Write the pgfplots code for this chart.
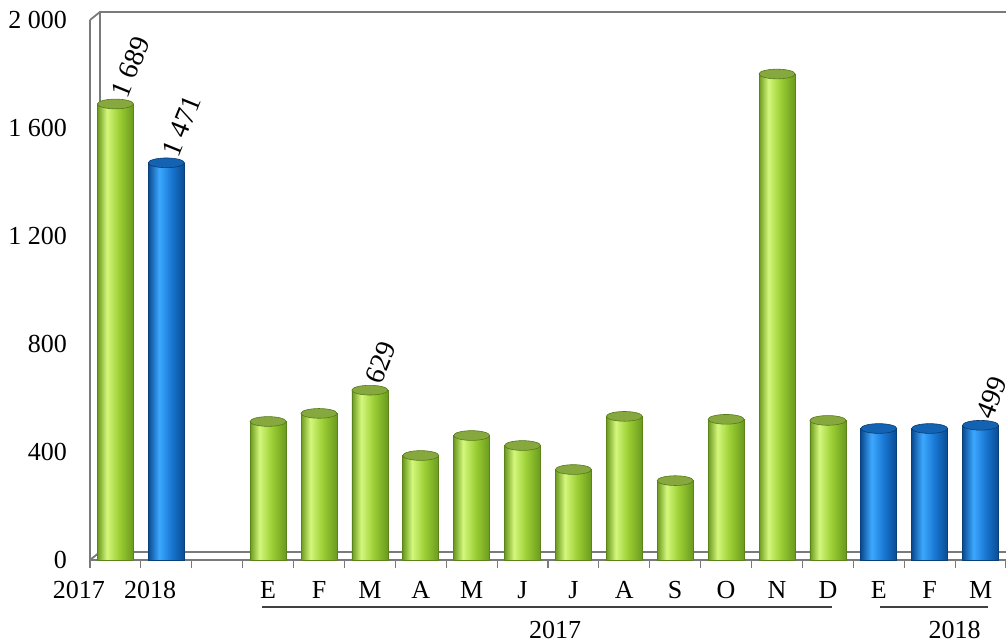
\documentclass[border=0pt]{standalone}
\usepackage{fontspec}
\setmainfont{Liberation Serif}
\usepackage{pgfplots}
\pgfplotsset{compat=1.18}

\definecolor{gD}{HTML}{6A9A1E}
\definecolor{gH}{HTML}{D4F77C}
\definecolor{gM}{HTML}{9CCF34}
\definecolor{gT}{HTML}{86A83E}
\definecolor{bD}{HTML}{0A4B92}
\definecolor{bH}{HTML}{3DA8FF}
\definecolor{bM}{HTML}{1877D2}
\definecolor{bT}{HTML}{1462B2}
\definecolor{axgray}{HTML}{7A7A7A}

\pgfdeclarehorizontalshading{cylgreen}{100bp}{color(0bp)=(gD); color(25bp)=(gD); color(38bp)=(gH); color(55bp)=(gM); color(75bp)=(gD); color(100bp)=(gD)}
\pgfdeclarehorizontalshading{cylblue}{100bp}{color(0bp)=(bD); color(25bp)=(bD); color(40bp)=(bH); color(57bp)=(bM); color(75bp)=(bD); color(100bp)=(bD)}

\pgfplotsset{
  gbar/.style={ybar, bar width=18pt, bar shift=0pt, shade, shading=cylgreen, draw=gD!85!black, line width=0.3pt},
  bbar/.style={ybar, bar width=18pt, bar shift=0pt, shade, shading=cylblue, draw=bD!85!black, line width=0.3pt},
}

\begin{document}
\begin{tikzpicture}[font=\fontsize{13}{15}\selectfont]
\useasboundingbox (-45pt,-41pt) rectangle (458pt,280pt);
\begin{axis}[
  at={(0,0)}, anchor=south west,
  scale only axis, width=458pt, height=270pt,
  xmin=-0.5, xmax=17.5, ymin=0, ymax=2000,
  axis lines=left,
  axis line style={-, draw=axgray, line width=0.9pt},
  clip=false,
  xtick={0,...,17},
  xticklabels={,,,E,F,M,A,M,J,J,A,S,O,N,D,E,F,M},
  minor xtick={-0.5,0.5,...,17.5},
  major tick length=0pt, minor tick length=4pt, tick align=outside,
  minor tick style={draw=axgray, line width=0.6pt},
  xticklabel style={yshift=-7pt},
  ytick={0,400,...,2000},
  yticklabels={0,400,800,1 200,1 600,2 000},
  yticklabel style={xshift=-8pt},
]
% back wall of the 3-d frame
\draw[axgray, line width=0.9pt] (axis cs:-0.5,2000) -- ++(5pt,4pt) -- ++(460pt,0pt);
\draw[axgray, line width=0.9pt] (axis cs:-0.5,0) -- ++(5pt,4pt) -- ++(460pt,0pt);
\draw[axgray, line width=0.9pt] (axis cs:-0.5,0) ++(5pt,4pt) -- ++(0pt,270pt);

% 2017 (green), one cylinder per month
\addplot[gbar] coordinates {(0,1689)};
\addplot[gbar] coordinates {(3,513)};
\addplot[gbar] coordinates {(4,543)};
\addplot[gbar] coordinates {(5,629)};
\addplot[gbar] coordinates {(6,387)};
\addplot[gbar] coordinates {(7,461)};
\addplot[gbar] coordinates {(8,424)};
\addplot[gbar] coordinates {(9,335)};
\addplot[gbar] coordinates {(10,532)};
\addplot[gbar] coordinates {(11,294)};
\addplot[gbar] coordinates {(12,521)};
\addplot[gbar] coordinates {(13,1800)};
\addplot[gbar] coordinates {(14,517)};
% 2018 (blue)
\addplot[bbar] coordinates {(1,1471)};
\addplot[bbar] coordinates {(15,487)};
\addplot[bbar] coordinates {(16,487)};
\addplot[bbar] coordinates {(17,499)};

% cylinder caps
\addplot[only marks, mark=*, mark size=9pt, mark options={yscale=0.27, fill=gT, draw=gD!80!black, line width=0.3pt}]
  coordinates {(0,1689) (3,513) (4,543) (5,629) (6,387) (7,461) (8,424) (9,335) (10,532) (11,294) (12,521) (13,1800) (14,517)};
\addplot[only marks, mark=*, mark size=9pt, mark options={yscale=0.27, fill=bT, draw=bD!80!black, line width=0.3pt}]
  coordinates {(1,1471) (15,487) (16,487) (17,499)};

% value labels
\addplot[draw=none, mark=none, point meta=explicit symbolic, nodes near coords,
  nodes near coords style={rotate=68, anchor=west, inner sep=4pt, font=\fontsize{14}{16}\selectfont}]
  coordinates {(0,1689) [1 689] (1,1471) [1 471] (5,629) [629] (17,499) [499]};

% annual tick labels (set off to the left as in the source)
\node[anchor=north] at ([yshift=-7pt]axis cs:-0.72,0) {2017};
\node[anchor=north] at ([yshift=-7pt]axis cs:0.68,0) {2018};

% year groups
\draw[black!75, line width=0.8pt] ([yshift=-23.5pt]axis cs:2.88,0) -- ([yshift=-23.5pt]axis cs:14.08,0);
\draw[black!75, line width=0.8pt] ([yshift=-23.5pt]axis cs:15.02,0) -- ([yshift=-23.5pt]axis cs:17.14,0);
\node at ([yshift=-35pt]axis cs:8.64,0) {2017};
\node at ([yshift=-35pt]axis cs:16.49,0) {2018};
\end{axis}
\end{tikzpicture}
\end{document}
